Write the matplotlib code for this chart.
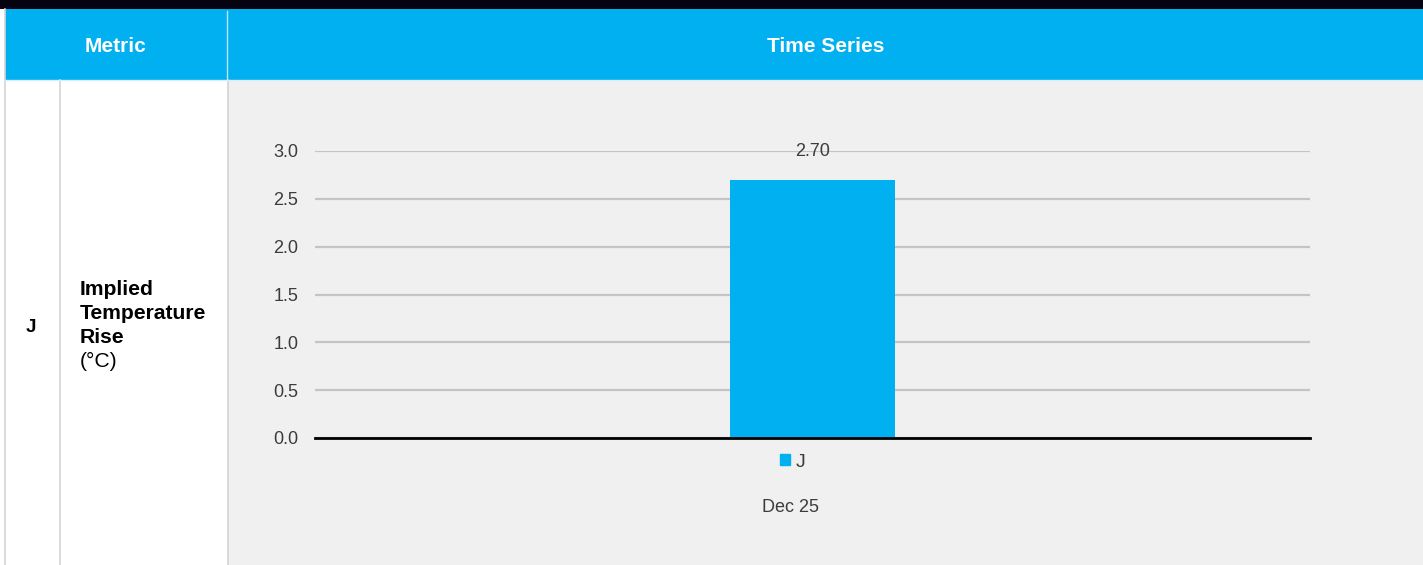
import matplotlib
matplotlib.use("Agg")
import matplotlib.pyplot as plt
from matplotlib.patches import Rectangle, Patch
from matplotlib.transforms import ScaledTranslation

plt.rcParams['font.family'] = ['Liberation Sans', 'DejaVu Sans']

# ---- data ----
categories = ["Dec 25"]
series_name = "J"
values = [2.70]
yticks = [0.0, 0.5, 1.0, 1.5, 2.0, 2.5, 3.0]
header_labels = ["Metric", "Time Series"]
row_code = "J"
metric_bold_lines = ["Implied", "Temperature", "Rise"]
metric_unit = "(°C)"

BLUE = "#00b0f0"
GRAY_BG = "#f0f0f0"
BORDER = "#d4d4d4"
TXT = "#3c3c3c"
W, H = 1423, 565

fig = plt.figure(figsize=(W / 100, H / 100), dpi=100)
fig.patch.set_facecolor("white")

# background / table axes in pixel coordinates
bg = fig.add_axes([0, 0, 1, 1])
bg.set_xlim(0, W)
bg.set_ylim(H, 0)
bg.axis("off")

bg.add_patch(Rectangle((0, 0), W, 9, color="#05030f", lw=0))
bg.add_patch(Rectangle((5, 9), W - 5, 71, color=BLUE, lw=0))
bg.add_patch(Rectangle((228, 80), W - 228, H - 80, color=GRAY_BG, lw=0))
bg.plot([227, 227], [11, 79], color="#b9e6f8", lw=1)
bg.plot([4.5, 4.5], [9, H], color=BORDER, lw=1.2)
bg.plot([59.5, 59.5], [80, H], color=BORDER, lw=1.2)
bg.plot([227.5, 227.5], [80, H], color=BORDER, lw=1.2)
bg.plot([5, W], [80, 80], color="#d8eef8", lw=1)

bg.text(116, 52, header_labels[0], color="white", fontsize=15, fontweight="bold",
        ha="center", va="baseline")
bg.text(826, 52, header_labels[1], color="white", fontsize=15, fontweight="bold",
        ha="center", va="baseline")
bg.text(31, 332, row_code, color="black", fontsize=13.5, fontweight="bold",
        ha="center", va="baseline")
for i, line in enumerate(metric_bold_lines):
    bg.text(80, 295 + 24 * i, line, color="black", fontsize=15.2, fontweight="bold",
            ha="left", va="baseline")
bg.text(80, 367, metric_unit, color="black", fontsize=15.2,
        ha="left", va="baseline")

# chart axes
left, right, top, bottom = 315, 1310, 151, 438
ax = fig.add_axes([left / W, (H - bottom) / H, (right - left) / W, (bottom - top) / H])
ax.set_facecolor("none")
ax.set_xlim(-0.5, 0.5)
ax.set_ylim(0, 3.0)
for s in ax.spines.values():
    s.set_visible(False)
ax.set_yticks(yticks)
ax.set_yticklabels([f"{t:.1f}" for t in yticks], color=TXT, fontsize=13)
ax.tick_params(axis="y", length=0, pad=12)
ax.yaxis.grid(True, color="#c4c4c4", lw=1.6)
ax.set_axisbelow(True)

xs = list(range(len(categories)))
bars = ax.bar(xs, values, width=0.166, color=BLUE, zorder=3, label=series_name)
ax.axhline(0, color="black", lw=2, zorder=4, clip_on=False)
for x, v in zip(xs, values):
    ax.text(x, 2.99, f"{v:.2f}", ha="center", va="center", fontsize=13,
            color=TXT, zorder=5)

ax.set_xticks(xs)
ax.set_xticklabels(categories, fontsize=13, color=TXT)
ax.tick_params(axis="x", length=0, pad=44)
shift = ScaledTranslation(-22 / 100, 0, fig.dpi_scale_trans)
for lab in ax.get_xticklabels():
    lab.set_transform(lab.get_transform() + shift)

leg = ax.legend(handles=[Patch(color=BLUE, label=series_name)], loc="upper center",
                bbox_to_anchor=(0.4805, 0.0), frameon=False, fontsize=14,
                handlelength=0.5, handleheight=0.5, handletextpad=0.3,
                borderpad=0.3, labelcolor=TXT)

fig.savefig("out.png", dpi=100, facecolor="white")
